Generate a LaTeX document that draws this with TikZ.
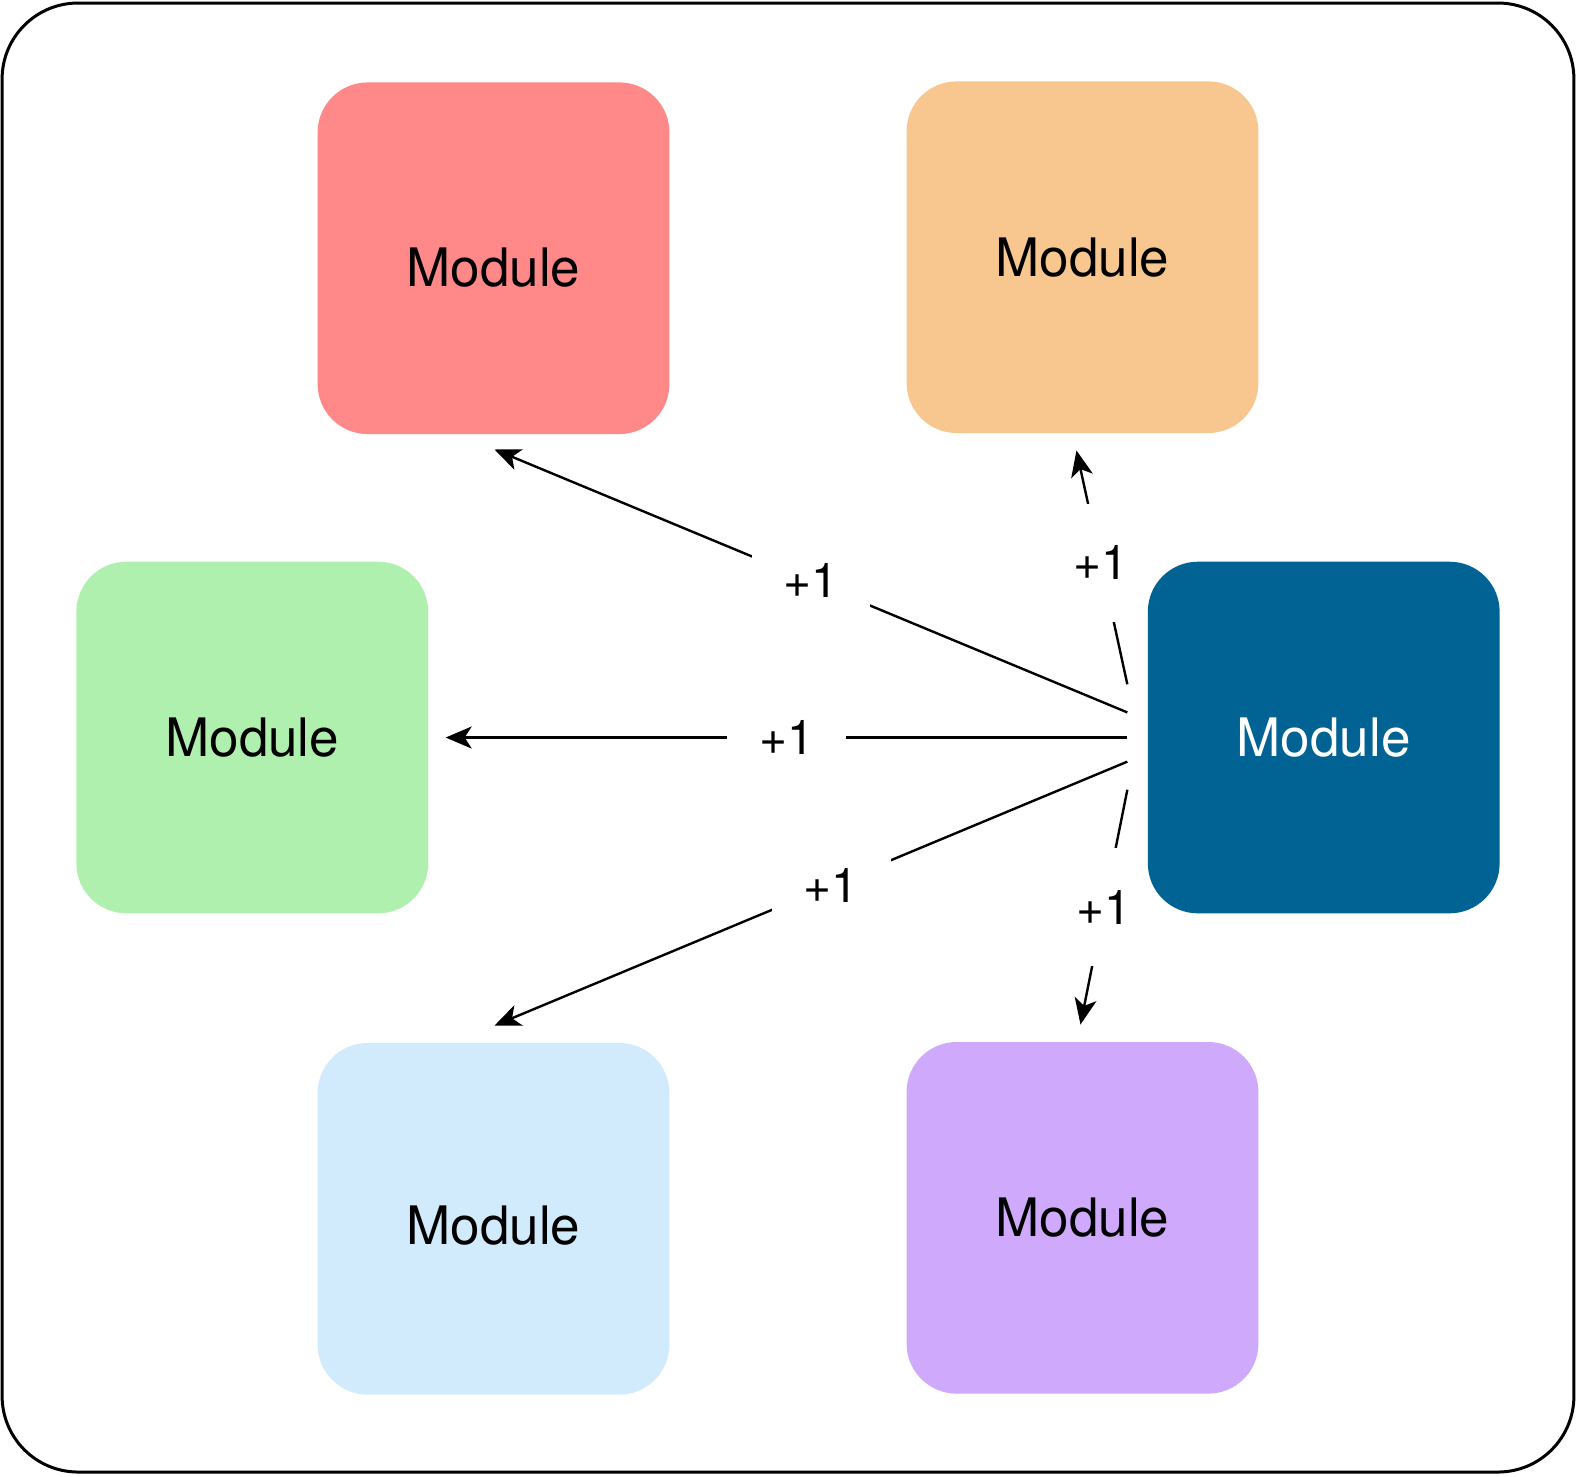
\documentclass[tikz,border=0pt]{standalone}
\usepackage{fontspec}
\setmainfont{TeX Gyre Heros}
\usetikzlibrary{arrows.meta,calc}
\definecolor{modred}{HTML}{FF8888}
\definecolor{modorange}{HTML}{F8C78F}
\definecolor{modgreen}{HTML}{AFF0AF}
\definecolor{moddark}{HTML}{006394}
\definecolor{modlight}{HTML}{D1EBFC}
\definecolor{modpurple}{HTML}{CFA9FC}
\pgfdeclarelayer{frame}
\pgfdeclarelayer{links}
\pgfsetlayers{frame,links,main}
% text lowered inside its box without changing the box size
\newcommand{\lowered}[2]{\raisebox{-#1}[\height][\depth]{#2}}
\begin{document}
\begin{tikzpicture}[x=0.50255pt,y=-0.5024pt,
  module/.style={rectangle,rounded corners=25pt,minimum width=175.9pt,minimum height=175.8pt,
    inner sep=0pt,font=\fontsize{26.5}{30}\selectfont},
  link/.style={line width=1.2pt,-{Stealth[length=13pt,width=11pt,inset=3.5pt]}},
  inc/.style={fill=white,inner xsep=16pt,inner ysep=21pt,font=\fontsize{24}{28}\selectfont}]
  \useasboundingbox (0,0) rectangle (1568,1469);
  \begin{pgfonlayer}{frame}
    \node[draw,line width=1.5pt,fill=white,rounded corners=38pt,minimum width=785.9pt,minimum height=734.5pt,inner sep=0pt]
      (frame) at (784,734) {};
  \end{pgfonlayer}

  % modules
  \node[module,fill=modred]    (red)    at (491,257)  {\lowered{4.5pt}{Module}};
  \node[module,fill=modorange] (orange) at (1077,256) {Module};
  \node[module,fill=modgreen]  (green)  at (251,734)  {Module};
  \node[module,fill=moddark,text=white] (dark) at (1317,734) {Module};
  \node[module,fill=modlight]  (light)  at (491,1213) {\lowered{3.5pt}{Module}};
  \node[module,fill=modpurple] (purple) at (1077,1212) {Module};

  % start and end points of the links
  \coordinate (sred)    at ($(dark.west)+(-20,-25)$);
  \coordinate (sgreen)  at ($(dark.west)+(-20,0)$);
  \coordinate (slight)  at ($(dark.west)+(-20,24)$);
  \coordinate (sorange) at ($(dark.west)+(-20,-53)$);
  \coordinate (spurple) at ($(dark.west)+(-20,52)$);
  \coordinate (ered)    at ($(red.south)+(1,15)$);
  \coordinate (eorange) at ($(orange.south)+(-6,17)$);
  \coordinate (egreen)  at ($(green.east)+(17,0)$);
  \coordinate (elight)  at ($(light.north)+(1,-17)$);
  \coordinate (epurple) at ($(purple.north)+(-2,-17)$);

  \begin{pgfonlayer}{links}
    \draw[link] (sred) -- (ered) node[inc,pos=0.5] (lred) {+1};
    \draw[link] (sgreen) -- (egreen) node[inc,pos=0.5] (lgreen) {+1};
    \draw[link] (slight) -- (elight) node[inc,pos=0.468] (llight) {+1};
    \draw[link] (sorange) -- (eorange) node[inc,pos=0.52] (lorange) {+1};
    \draw[link] (spurple) -- (epurple) node[inc,pos=0.5] (lpurple) {+1};
  \end{pgfonlayer}
\end{tikzpicture}
\end{document}
